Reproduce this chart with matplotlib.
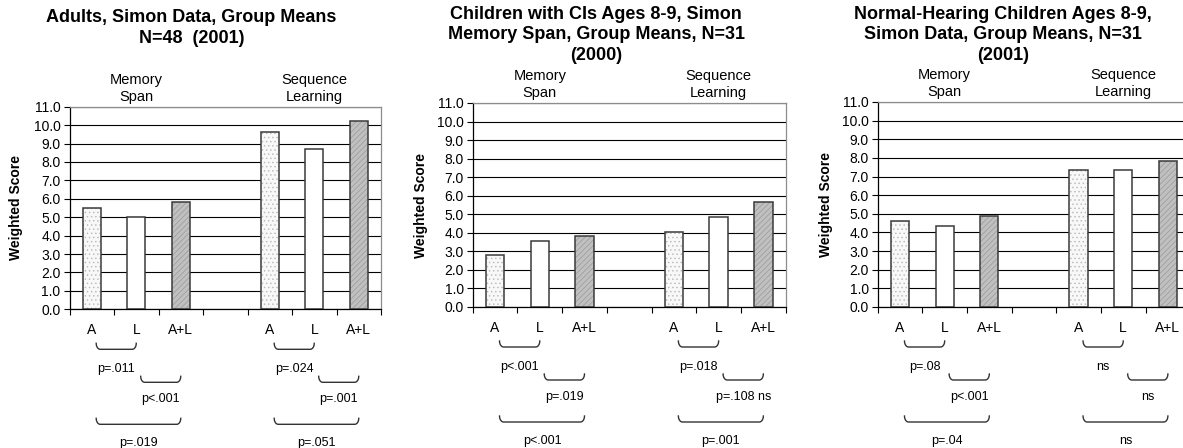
import numpy as np
import matplotlib
matplotlib.use("Agg")
import matplotlib.pyplot as plt
from matplotlib.transforms import blended_transform_factory

plt.rcParams['font.family'] = ['Liberation Sans', 'DejaVu Sans']
plt.rcParams['hatch.linewidth'] = 0.5

# ---- data ----
categories = ['A', 'L', 'A+L', '', 'A', 'L', 'A+L']
group_labels = ['Memory\nSpan', 'Sequence\nLearning']
titles = [
    'Adults, Simon Data, Group Means\nN=48  (2001)',
    'Children with CIs Ages 8-9, Simon\nMemory Span, Group Means, N=31\n(2000)',
    'Normal-Hearing Children Ages 8-9,\nSimon Data, Group Means, N=31\n(2001)',
]
adults_values = [5.5, 5.0, 5.8, 9.6, 8.7, 10.2]
ci_values = [2.8, 3.55, 3.85, 4.05, 4.85, 5.65]
nh_values = [4.6, 4.35, 4.9, 7.35, 7.35, 7.85]
bar_slots = [0, 1, 2, 4, 5, 6]
bar_kinds = ['A', 'L', 'AL', 'A', 'L', 'AL']

# p-value labels: (group, from-index, to-index, row, text)
adults_p = [(0, 0, 1, 0, 'p=.011'), (0, 1, 2, 1, 'p<.001'), (0, 0, 2, 2, 'p=.019'),
            (1, 0, 1, 0, 'p=.024'), (1, 1, 2, 1, 'p=.001'), (1, 0, 2, 2, 'p=.051')]
ci_p = [(0, 0, 1, 0, 'p<.001'), (0, 1, 2, 1, 'p=.019'), (0, 0, 2, 2, 'p<.001'),
        (1, 0, 1, 0, 'p=.018'), (1, 1, 2, 1, 'p=.108 ns'), (1, 0, 2, 2, 'p=.001')]
nh_p = [(0, 0, 1, 0, 'p=.08'), (0, 1, 2, 1, 'p<.001'), (0, 0, 2, 2, 'p=.04'),
        (1, 0, 1, 0, 'ns'), (1, 1, 2, 1, 'ns'), (1, 0, 2, 2, 'ns')]

panels_values = [adults_values, ci_values, nh_values]
panels_p = [adults_p, ci_p, nh_p]

# ---- layout ----
W, H = 1183, 448
fig = plt.figure(figsize=(W / 100, H / 100), dpi=100)

axes_px = [(69.5, 106.7, 311.5, 309.3),   # left, top, width, bottom
           (472.7, 103.0, 313.0, 307.0),
           (877.7, 102.0, 312.5, 307.0)]
title_px = [(191.5, 9), (596, 6), (1003, 6)]
title_ls = [1.33, 1.25, 1.25]
ylabel_x = [-0.149, -0.143, -0.143]

face = {'A': '#f8f8f8', 'L': 'white', 'AL': '#c0c0c0'}
hatch = {'A': '....', 'L': None, 'AL': '//////'}
hcol = {'A': '#b8b8b8', 'L': 'white', 'AL': '#999999'}

row_bracket = [40, 73, 115]
row_label = [60, 90, 134]

for k in range(3):
    left, top, width, bottom = axes_px[k]
    ax = fig.add_axes([left / W, (H - bottom) / H, width / W, (bottom - top) / H])
    vals = panels_values[k]
    x = np.array(bar_slots) + 0.5
    bw = 0.41
    for xi, v, kind in zip(x, vals, bar_kinds):
        ax.bar(xi, v, width=bw, color=face[kind], edgecolor=hcol[kind],
               hatch=hatch[kind], linewidth=0, zorder=2)
        ax.bar(xi, v, width=bw, fill=False, edgecolor='#3a3a3a',
               linewidth=1.1, zorder=3)

    ax.set_xlim(0, 7)
    ax.set_ylim(0, 11)
    ax.set_yticks(np.arange(0, 12, 1))
    ax.set_yticklabels([f'{t:.1f}' for t in np.arange(0, 12, 1)], fontsize=10)
    ax.set_xticks(np.arange(0, 8, 1))
    ax.set_xticklabels([])
    ax.set_xticks(np.arange(7) + 0.5, minor=True)
    ax.set_xticklabels(categories, minor=True, fontsize=10)
    ax.tick_params(axis='x', which='minor', length=0, pad=10)
    ax.tick_params(axis='x', which='major', direction='out', length=4, width=0.8)
    ax.tick_params(axis='y', direction='out', length=4, width=0.8, pad=2.5)

    ax.set_axisbelow(True)
    ax.yaxis.grid(True, color='black', linewidth=0.8, zorder=0)
    for s in ['top', 'right']:
        ax.spines[s].set_color('#8c8c8c')
        ax.spines[s].set_linewidth(0.9)
    for s in ['left', 'bottom']:
        ax.spines[s].set_color('black')
        ax.spines[s].set_linewidth(0.9)

    ax.set_ylabel('Weighted Score', fontsize=10, fontweight='bold')
    ax.yaxis.set_label_coords(ylabel_x[k], 0.5)

    # group headers
    for g, lab in enumerate(group_labels):
        ax.annotate(lab, xy=(1.5 + 4 * g, 1.0), xycoords=('data', 'axes fraction'),
                    xytext=(0, 2), textcoords='offset points', ha='center',
                    va='bottom', fontsize=10.5, linespacing=1.3)

    # brackets
    axh = bottom - top
    trans = blended_transform_factory(ax.transData, ax.transAxes)
    th = np.linspace(np.pi, 1.5 * np.pi, 12)
    r = 0.09
    hgt = 6.0
    for g, i, j, row, txt in panels_p[k]:
        x1 = 4 * g + i + 0.5 + 0.1
        x2 = 4 * g + j + 0.5
        y0 = row_bracket[row]
        lx = x1 + r + r * np.cos(th)
        ly = hgt + hgt * np.sin(th)
        rx = (x2 - r) - r * np.cos(th)
        ry = ly
        xs = np.concatenate([lx, rx[::-1]])
        ys = np.concatenate([ly, ry[::-1]])
        ys_ax = -(y0 - ys) / axh
        ax.plot(xs, ys_ax, transform=trans, color='#333333', lw=1.0, clip_on=False)
        ax.text((x1 + x2) / 2, -row_label[row] / axh, txt, transform=trans,
                ha='center', va='center', fontsize=9)

    tx, ty = title_px[k]
    fig.text(tx / W, 1 - ty / H, titles[k], ha='center', va='top',
             fontsize=13, fontweight='bold', linespacing=title_ls[k])

fig.savefig('out.png', dpi=100)
